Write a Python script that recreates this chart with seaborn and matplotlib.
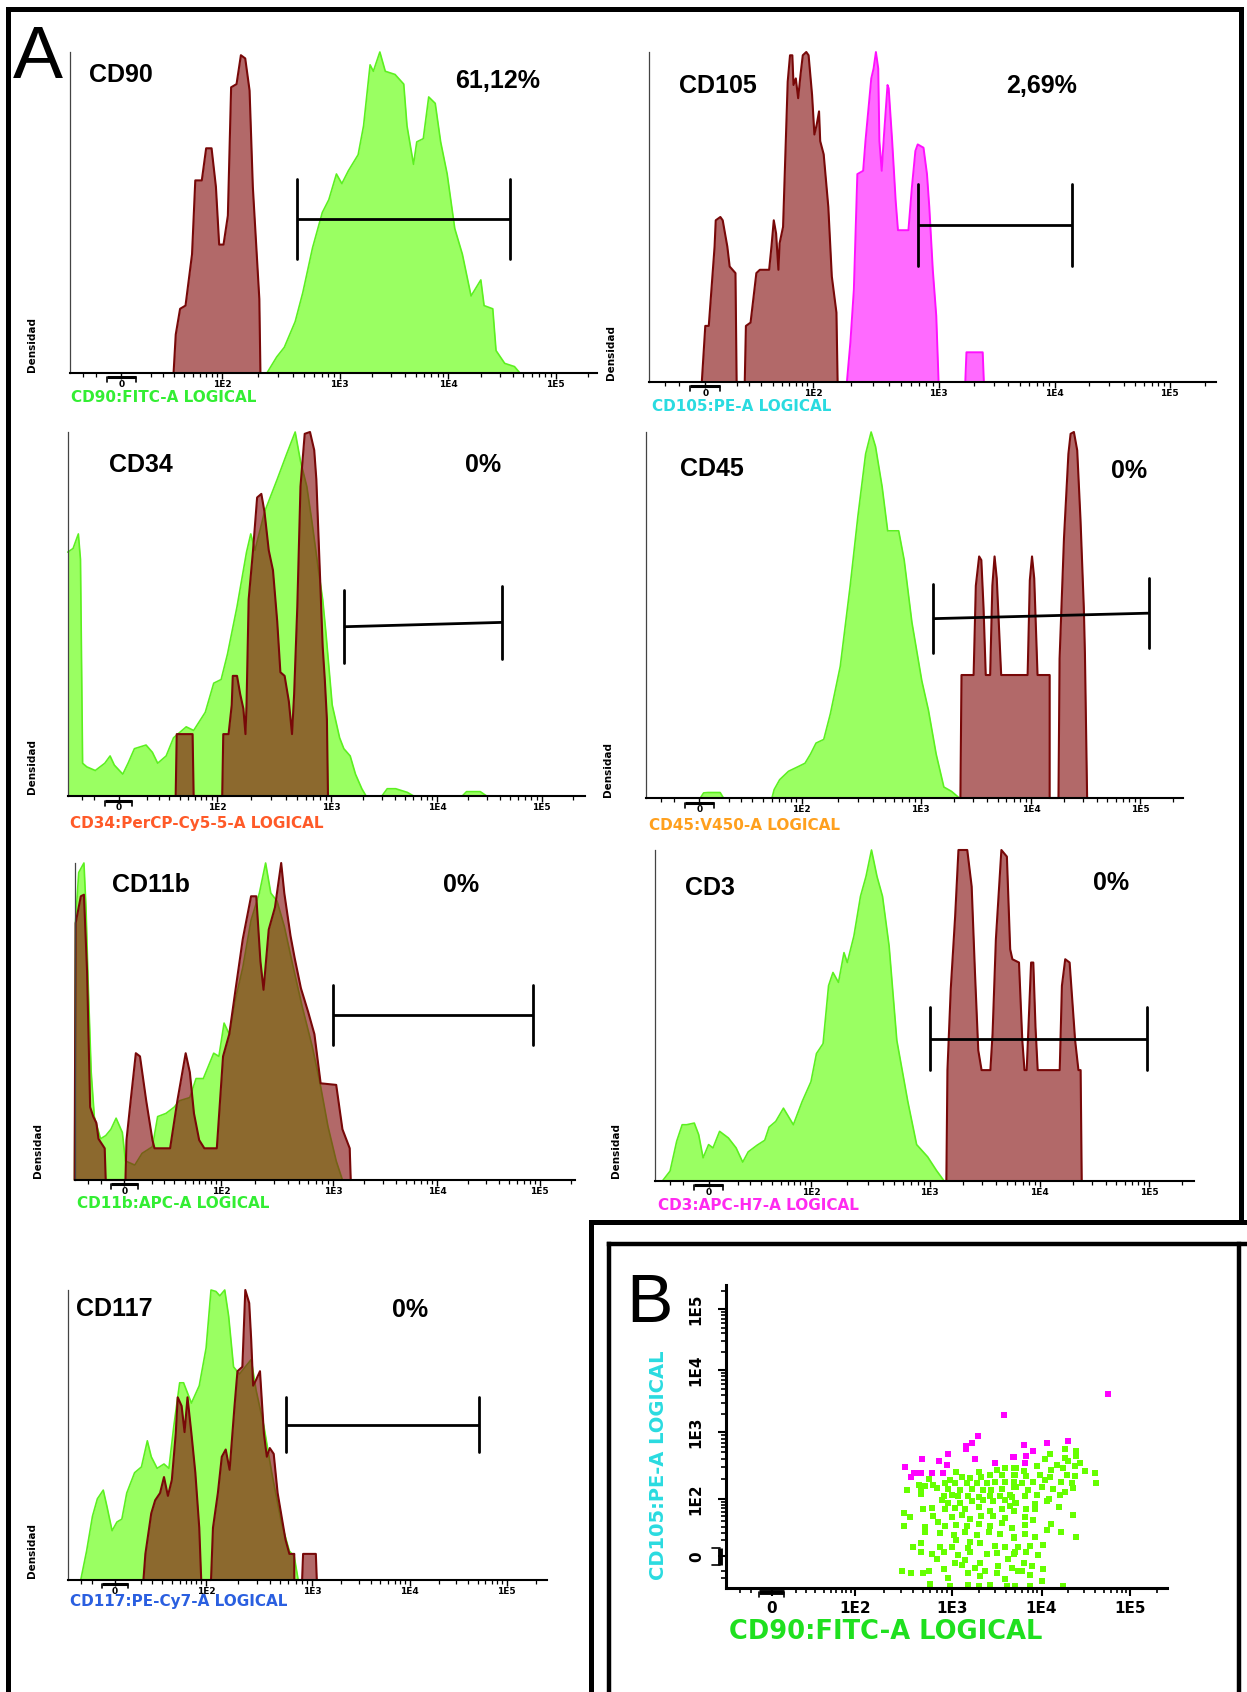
import numpy as np
import matplotlib
matplotlib.use("Agg")
import matplotlib.pyplot as plt
from matplotlib.lines import Line2D
import seaborn as sns

W, H = 1247, 1692

# eixo "logical": posicao das decadas em unidades do eixo
TICK_U = [0, 0.93, 2.01, 3.01, 4.0]
TICK_LABELS = ['0', '1E2', '1E3', '1E4', '1E5']

# ── CD90 ─────────────────────────────────────────────────────────────
CD90_ISO_U = [0.48, 0.50, 0.54, 0.59, 0.65, 0.68, 0.74, 0.78, 0.83, 0.87, 0.90, 0.94, 0.98, 1.01, 1.06,
              1.10, 1.14, 1.18, 1.21, 1.27, 1.28]
CD90_ISO_H = [0, 0.12, 0.20, 0.21, 0.37, 0.60, 0.60, 0.70, 0.70, 0.58, 0.40, 0.40, 0.49, 0.89, 0.90,
              0.99, 0.98, 0.88, 0.58, 0.23, 0]
CD90_U = [1.34, 1.43, 1.50, 1.60, 1.67, 1.76, 1.85, 1.91, 1.98, 2.03, 2.09, 2.18, 2.23, 2.29, 2.32, 2.38,
          2.43, 2.52, 2.60, 2.63, 2.69, 2.72, 2.78, 2.83, 2.89, 2.94, 3.00, 3.07, 3.14, 3.22, 3.31, 3.34,
          3.42, 3.45, 3.53, 3.62, 3.67]
CD90_H = [0, 0.05, 0.08, 0.16, 0.25, 0.39, 0.50, 0.54, 0.62, 0.59, 0.63, 0.68, 0.77, 0.96, 0.94, 1.0,
          0.94, 0.93, 0.90, 0.77, 0.65, 0.72, 0.73, 0.86, 0.84, 0.72, 0.62, 0.45, 0.37, 0.24, 0.29, 0.21,
          0.20, 0.07, 0.03, 0.02, 0]

# ── CD105 ────────────────────────────────────────────────────────────
CD105_ISO_U = [-0.03, 0, 0.03, 0.08, 0.09, 0.13, 0.15, 0.19, 0.21, 0.26, 0.27, 0.34, 0.35, 0.39, 0.44,
               0.47, 0.55, 0.57, 0.59, 0.61, 0.63, 0.64, 0.67, 0.69, 0.71, 0.73, 0.75, 0.76, 0.78, 0.80,
               0.82, 0.84, 0.87, 0.89, 0.92, 0.94, 0.96, 0.98, 0.99, 1.02, 1.06, 1.09, 1.13, 1.14]
CD105_ISO_H = [0, 0.17, 0.17, 0.41, 0.49, 0.50, 0.49, 0.41, 0.35, 0.33, 0, 0, 0.17, 0.18, 0.33,
               0.34, 0.34, 0.41, 0.49, 0.45, 0.34, 0.42, 0.47, 0.69, 0.91, 0.99, 0.99, 0.90, 0.92, 0.86,
               0.93, 0.99, 1.0, 0.99, 0.87, 0.75, 0.78, 0.82, 0.73, 0.69, 0.53, 0.32, 0.21, 0]
CD105_U = [1.22, 1.25, 1.28, 1.31, 1.36, 1.38, 1.43, 1.45, 1.47, 1.49, 1.50, 1.52, 1.54, 1.57, 1.58, 1.61,
           1.64, 1.66, 1.75, 1.78, 1.81, 1.83, 1.88, 1.91, 1.93, 1.96, 1.99, 2.01, 2.24, 2.25, 2.39, 2.40]
CD105_H = [0, 0.12, 0.28, 0.63, 0.64, 0.73, 0.92, 0.95, 1.0, 0.95, 0.73, 0.64, 0.75, 0.90, 0.89, 0.73,
           0.55, 0.46, 0.46, 0.59, 0.70, 0.72, 0.71, 0.63, 0.53, 0.34, 0.20, 0, 0, 0.09, 0.09, 0]

# ── CD34 ─────────────────────────────────────────────────────────────
CD34_U = [-0.48, -0.43, -0.38, -0.36, -0.34, -0.30, -0.22, -0.13, -0.08, -0.04, 0.04, 0.09, 0.15, 0.26,
          0.32, 0.37, 0.45, 0.52, 0.64, 0.71, 0.82, 0.90, 0.97, 1.03, 1.12, 1.21, 1.25, 1.29, 1.38, 1.50,
          1.59, 1.67, 1.72, 1.78, 1.83, 1.89, 1.93, 1.96, 2.02, 2.09, 2.13, 2.19, 2.24, 2.30, 2.34, 2.49,
          2.54, 2.62, 2.73, 2.79, 3.25, 3.29, 3.42, 3.48]
CD34_H = [0.67, 0.68, 0.72, 0.65, 0.09, 0.08, 0.07, 0.09, 0.11, 0.085, 0.06, 0.09, 0.13, 0.14,
          0.12, 0.09, 0.11, 0.16, 0.19, 0.18, 0.23, 0.31, 0.32, 0.39, 0.52, 0.67, 0.72, 0.675, 0.78, 0.87,
          0.94, 1.0, 0.92, 0.85, 0.75, 0.62, 0.54, 0.45, 0.25, 0.16, 0.13, 0.11, 0.06, 0.02, 0, 0,
          0.02, 0.02, 0.01, 0, 0, 0.012, 0.012, 0]
CD34_ISO_U = [0.54, 0.55, 0.70, 0.71, 0.98, 0.99, 1.04, 1.07, 1.08, 1.12, 1.15, 1.18, 1.20, 1.21, 1.23,
              1.27, 1.31, 1.35, 1.38, 1.42, 1.46, 1.50, 1.53, 1.57, 1.61, 1.64, 1.66, 1.69, 1.72, 1.76,
              1.81, 1.85, 1.87, 1.90, 1.93, 1.95, 1.97, 1.98]
CD34_ISO_H = [0, 0.17, 0.17, 0, 0, 0.17, 0.17, 0.25, 0.33, 0.33, 0.28, 0.24, 0.17, 0.25, 0.54,
              0.67, 0.82, 0.83, 0.78, 0.675, 0.62, 0.48, 0.34, 0.33, 0.26, 0.17, 0.28, 0.52, 0.85, 0.995,
              1.0, 0.95, 0.87, 0.64, 0.41, 0.32, 0.21, 0]

# ── CD45 ─────────────────────────────────────────────────────────────
CD45_U = [0.01, 0.04, 0.08, 0.19, 0.22, 0.66, 0.68, 0.73, 0.81, 0.90, 0.96, 1.01, 1.06, 1.13, 1.19, 1.28,
          1.37, 1.44, 1.51, 1.56, 1.60, 1.66, 1.71, 1.75, 1.81, 1.86, 1.93, 2.02, 2.08, 2.15, 2.22, 2.29, 2.36]
CD45_H = [0, 0.014, 0.015, 0.015, 0, 0, 0.023, 0.05, 0.073, 0.086, 0.095, 0.12, 0.15, 0.16, 0.23, 0.36,
          0.58, 0.77, 0.94, 1.0, 0.96, 0.85, 0.73, 0.73, 0.73, 0.65, 0.48, 0.32, 0.24, 0.12, 0.03, 0.018, 0]
CD45_ISO_U = [2.37, 2.38, 2.49, 2.51, 2.54, 2.56, 2.58, 2.60, 2.64, 2.66, 2.68, 2.70, 2.74, 2.98, 3.00,
              3.02, 3.04, 3.07, 3.18, 3.18, 3.26, 3.27, 3.31, 3.35, 3.37, 3.40, 3.43, 3.46, 3.49, 3.50, 3.52]
CD45_ISO_H = [0, 0.336, 0.336, 0.58, 0.66, 0.65, 0.52, 0.336, 0.336, 0.58, 0.66, 0.60, 0.336, 0.336, 0.595,
              0.66, 0.60, 0.336, 0.336, 0, 0, 0.38, 0.71, 0.94, 0.995, 1.0, 0.95, 0.76, 0.52, 0.395, 0]

# ── CD11b ────────────────────────────────────────────────────────────
CD11B_U = [-0.48, -0.47, -0.44, -0.39, -0.37, -0.35, -0.32, -0.29, -0.23, -0.18, -0.13, -0.08, -0.02, 0.01,
           0.10, 0.17, 0.27, 0.32, 0.40, 0.48, 0.53, 0.63, 0.69, 0.76, 0.86, 0.91, 0.96, 1.01, 1.07, 1.14,
           1.22, 1.30, 1.36, 1.41, 1.47, 1.54, 1.62, 1.71, 1.81, 1.89, 1.96, 2.04, 2.10]
CD11B_H = [0, 0.82, 0.97, 1.0, 0.86, 0.63, 0.34, 0.20, 0.13, 0.14, 0.16, 0.195, 0.15, 0.06,
           0.047, 0.084, 0.105, 0.20, 0.21, 0.23, 0.25, 0.26, 0.32, 0.32, 0.40, 0.39, 0.495, 0.46, 0.57, 0.67,
           0.82, 0.905, 1.0, 0.905, 0.88, 0.80, 0.68, 0.55, 0.42, 0.295, 0.17, 0.06, 0]
CD11B_ISO_U = [-0.48, -0.47, -0.42, -0.39, -0.36, -0.33, -0.30, -0.27, -0.25, -0.19, -0.18, 0.01, 0.02,
               0.06, 0.11, 0.15, 0.21, 0.27, 0.29, 0.44, 0.51, 0.59, 0.63, 0.67, 0.72, 0.77, 0.89, 0.95,
               1.01, 1.07, 1.14, 1.22, 1.27, 1.31, 1.34, 1.39, 1.45, 1.51, 1.54, 1.60, 1.64, 1.70, 1.77,
               1.83, 1.89, 2.04, 2.10, 2.17, 2.18]
CD11B_ISO_H = [0, 0.81, 0.895, 0.90, 0.66, 0.23, 0.20, 0.18, 0.13, 0.10, 0, 0, 0.126,
               0.25, 0.40, 0.39, 0.25, 0.126, 0.10, 0.10, 0.25, 0.40, 0.34, 0.21, 0.126, 0.10, 0.10, 0.39,
               0.46, 0.60, 0.76, 0.895, 0.895, 0.69, 0.60, 0.79, 0.86, 1.0, 0.905, 0.77, 0.70, 0.605, 0.53,
               0.46, 0.305, 0.30, 0.16, 0.10, 0]

# ── CD3 ──────────────────────────────────────────────────────────────
CD3_U = [-0.42, -0.35, -0.29, -0.24, -0.20, -0.13, -0.09, -0.05, 0.0, 0.04, 0.10, 0.18, 0.25, 0.31, 0.36,
         0.44, 0.51, 0.55, 0.61, 0.68, 0.77, 0.85, 0.93, 0.98, 1.04, 1.09, 1.13, 1.18, 1.23, 1.26, 1.32,
         1.38, 1.43, 1.48, 1.53, 1.58, 1.64, 1.71, 1.81, 1.89, 1.99, 2.07, 2.14]
CD3_H = [0, 0.03, 0.12, 0.17, 0.17, 0.175, 0.14, 0.07, 0.11, 0.10, 0.15, 0.13, 0.10, 0.057, 0.088,
         0.108, 0.123, 0.163, 0.18, 0.22, 0.17, 0.24, 0.30, 0.385, 0.415, 0.59, 0.63, 0.60, 0.69, 0.66, 0.74,
         0.86, 0.92, 1.0, 0.92, 0.86, 0.71, 0.425, 0.24, 0.11, 0.073, 0.032, 0]
CD3_ISO_U = [2.16, 2.17, 2.20, 2.24, 2.27, 2.35, 2.39, 2.42, 2.45, 2.48, 2.56, 2.58, 2.61, 2.66, 2.71, 2.74,
             2.76, 2.82, 2.85, 2.87, 2.89, 2.93, 2.95, 2.97, 2.99, 3.19, 3.21, 3.24, 3.28, 3.33, 3.36, 3.38,
             3.39]
CD3_ISO_H = [0, 0.335, 0.58, 0.80, 1.0, 1.0, 0.89, 0.63, 0.395, 0.335, 0.335, 0.445, 0.73, 1.0, 0.98, 0.70,
             0.67, 0.66, 0.425, 0.335, 0.335, 0.66, 0.66, 0.465, 0.335, 0.335, 0.59, 0.67, 0.66, 0.425, 0.335,
             0.335, 0]

# ── CD117 ────────────────────────────────────────────────────────────
CD117_U = [-0.35, -0.29, -0.23, -0.18, -0.12, -0.08, -0.03, 0.02, 0.07, 0.12, 0.20, 0.27, 0.33, 0.37, 0.43,
           0.50, 0.55, 0.60, 0.66, 0.70, 0.78, 0.86, 0.93, 0.98, 1.03, 1.07, 1.12, 1.16, 1.21, 1.27, 1.33,
           1.39, 1.44, 1.52, 1.60, 1.70, 1.78, 1.83, 1.87]
CD117_H = [0, 0.10, 0.22, 0.28, 0.31, 0.25, 0.17, 0.20, 0.21, 0.30, 0.37, 0.39, 0.48, 0.425, 0.385,
           0.40, 0.385, 0.53, 0.68, 0.68, 0.61, 0.67, 0.80, 1.0, 0.995, 0.98, 1.0, 0.91, 0.735, 0.71, 0.735,
           0.76, 0.655, 0.53, 0.37, 0.195, 0.10, 0.08, 0]
CD117_ISO_U = [0.29, 0.31, 0.37, 0.41, 0.46, 0.50, 0.54, 0.58, 0.62, 0.64, 0.68, 0.71, 0.74, 0.78, 0.82,
               0.86, 0.88, 0.98, 1.00, 1.05, 1.09, 1.13, 1.17, 1.22, 1.25, 1.30, 1.33, 1.37, 1.39, 1.41,
               1.44, 1.48, 1.52, 1.55, 1.58, 1.62, 1.66, 1.74, 1.78, 1.83, 1.83, 1.91, 1.92, 2.05, 2.06]
CD117_ISO_H = [0, 0.09, 0.23, 0.275, 0.30, 0.355, 0.29, 0.345, 0.505, 0.63, 0.60, 0.51, 0.63, 0.505, 0.37,
               0.18, 0, 0, 0.18, 0.30, 0.425, 0.45, 0.38, 0.60, 0.72, 0.735, 1.0, 0.955, 0.83, 0.67,
               0.69, 0.72, 0.505, 0.425, 0.455, 0.435, 0.30, 0.14, 0.09, 0.09, 0, 0, 0.09, 0.09, 0]

# marcadores de regiao: inicio, fim, altura esq., altura dir., meia altura das pontas
GATE_CD90 = [1.62, 3.58, 0.48, 0.48, 0.125]
GATE_CD105 = [1.83, 3.16, 0.475, 0.475, 0.125]
GATE_CD34 = [2.13, 3.63, 0.465, 0.477, 0.10]
GATE_CD45 = [2.12, 4.08, 0.49, 0.505, 0.095]
GATE_CD11B = [2.01, 3.94, 0.52, 0.52, 0.095]
GATE_CD3 = [2.01, 3.98, 0.43, 0.43, 0.095]
GATE_CD117 = [1.75, 3.72, 0.535, 0.535, 0.095]

# ── B: CD90 x CD105 (eventos) ────────────────────────────────────────
B_GREEN = [
    (2.06, 1.36), (2.31, 1.36), (2.51, 1.40), (2.60, 1.43), (2.73, 1.43),
    (1.75, 1.25), (1.99, 1.24), (2.12, 1.28), (2.21, 1.27), (2.34, 1.28), (2.44, 1.31), (2.57, 1.32), (2.70, 1.32),
    (1.64, 1.16), (1.71, 1.14), (1.80, 1.16), (1.93, 1.19), (2.05, 1.18), (2.18, 1.19), (2.29, 1.18), (2.40, 1.19),
    (2.49, 1.20), (2.60, 1.21),
    (1.51, 1.07), (1.67, 1.09), (1.84, 1.11), (1.97, 1.09), (2.10, 1.08), (2.23, 1.09), (2.36, 1.07), (2.45, 1.08),
    (2.57, 1.09), (2.70, 1.12),
    (1.66, 1.01), (1.92, 0.97), (2.01, 1.00), (2.08, 0.97), (2.19, 0.98), (2.31, 0.96), (2.44, 0.97), (2.55, 0.98),
    (2.66, 1.00),
    (1.90, 0.92), (1.97, 0.86), (2.10, 0.87), (2.23, 0.89), (2.36, 0.92), (2.47, 0.89), (2.60, 0.91), (2.71, 0.86),
    (1.69, 0.76), (1.79, 0.78), (1.93, 0.77), (2.05, 0.78), (2.16, 0.76), (2.31, 0.80), (2.44, 0.74), (2.57, 0.76),
    (2.66, 0.81),
    (1.48, 0.70), (1.54, 0.64), (1.80, 0.65), (2.01, 0.64), (2.12, 0.67), (2.21, 0.60), (2.34, 0.65), (2.47, 0.66),
    (2.60, 0.62),
    (1.48, 0.50), (1.71, 0.48), (1.86, 0.55), (1.93, 0.50), (2.06, 0.51), (2.18, 0.49), (2.31, 0.53), (2.44, 0.50),
    (2.57, 0.54), (2.68, 0.46),
    (1.71, 0.40), (1.88, 0.38), (2.03, 0.35), (2.16, 0.39), (2.29, 0.34), (2.42, 0.40), (2.55, 0.37),
    (2.06, 0.27), (2.21, 0.24), (2.70, 0.31),
    (1.58, 0.15), (1.67, 0.22), (1.88, 0.16), (2.01, 0.16), (2.19, 0.14), (2.32, 0.21), (2.49, 0.17), (2.60, 0.15),
    (1.66, 0.08), (1.79, 0.04), (1.92, 0.07), (2.08, 0.03), (2.21, 0.08), (2.40, 0.04), (2.51, 0.05), (2.71, 0.07),
    (1.84, -0.04), (2.05, -0.11), (2.16, -0.05), (2.32, -0.10), (2.64, -0.04),
    (2.12, -0.13), (2.27, -0.19), (2.53, -0.16), (2.68, -0.19),
    (1.45, -0.24), (1.55, -0.27), (1.69, -0.27), (1.75, -0.24), (1.92, -0.20), (2.19, -0.27), (2.38, -0.24),
    (2.51, -0.27), (2.75, -0.24),
    (1.97, -0.35), (2.32, -0.32), (2.60, -0.37),
    (1.77, -0.44), (1.99, -0.47), (2.19, -0.46), (2.31, -0.47), (2.44, -0.46), (2.62, -0.47),
    (3.27, 1.74), (3.40, 1.70), (3.10, 1.65), (3.05, 1.58), (3.27, 1.59), (3.40, 1.62), (3.18, 1.48), (3.44, 1.51),
    (3.31, 1.54),
    (2.70, 1.43), (2.81, 1.39), (2.96, 1.46), (3.12, 1.40), (3.25, 1.43), (3.38, 1.46), (3.49, 1.39), (3.61, 1.35),
    (2.71, 1.31), (2.84, 1.30), (2.99, 1.32), (3.10, 1.28), (3.29, 1.32), (3.38, 1.30),
    (2.70, 1.21), (2.79, 1.19), (2.92, 1.21), (3.05, 1.24), (3.23, 1.21), (3.35, 1.19), (3.62, 1.19),
    (2.73, 1.12), (2.86, 1.08), (3.01, 1.12), (3.14, 1.09), (3.27, 1.05), (3.36, 1.11),
    (2.68, 0.96), (2.83, 0.97), (2.96, 1.00), (3.09, 0.93), (3.22, 1.00),
    (2.73, 0.86), (2.94, 0.85), (3.07, 0.89), (3.20, 0.80),
    (2.70, 0.73), (2.84, 0.76), (2.94, 0.77),
    (2.83, 0.64), (2.92, 0.59), (3.36, 0.67),
    (2.83, 0.51), (3.12, 0.53), (3.07, 0.43), (3.23, 0.40),
    (2.70, 0.30), (2.83, 0.37), (2.94, 0.32), (3.40, 0.32),
    (2.75, 0.16), (2.88, 0.17), (3.03, 0.19),
    (2.70, 0.04), (2.84, 0.08), (2.97, 0.03),
    (2.81, -0.11), (2.90, -0.16),
    (2.79, -0.24), (2.88, -0.30), (3.03, -0.21),
    (3.01, -0.40), (3.25, -0.47), (2.71, -0.48), (2.88, -0.48),
]
B_MAGENTA = [
    (2.59, 2.29), (2.30, 1.94), (2.23, 1.83), (2.17, 1.78), (2.17, 1.73), (1.97, 1.65), (1.68, 1.58), (1.87, 1.54),
    (2.27, 1.58), (2.49, 1.51), (2.69, 1.61), (1.49, 1.45), (1.95, 1.48), (1.59, 1.35), (1.63, 1.35), (1.67, 1.35),
    (1.79, 1.35), (1.91, 1.35), (1.55, 1.28), (3.31, 1.87), (3.07, 1.83), (2.81, 1.81), (2.92, 1.70), (2.84, 1.63),
    (2.70, 1.61), (2.83, 1.51), (3.75, 2.62),
]

GREEN_FILL, GREEN_EDGE = '#9aff62', '#5cf020'
ISO_FILL, ISO_EDGE = '#851111', '#780808'
MAG_FILL, MAG_EDGE = '#ff6aff', '#ff10ff'

sns.set_theme(style="white", rc={'axes.edgecolor': 'black', 'xtick.color': 'black',
                                 'ytick.color': 'black', 'text.color': 'black'})
plt.rcParams['font.family'] = ['DejaVu Sans']

fig = plt.figure(figsize=(W / 100, H / 100), dpi=100)


def px_axes(l, r, t, b):
    return fig.add_axes([l / W, 1 - b / H, (r - l) / W, (b - t) / H])


def ftext(x, y, s, **kw):
    fig.text(x / W, 1 - y / H, s, **kw)


def fline(xs, ys, lw):
    fig.add_artist(Line2D([x / W for x in xs], [1 - y / H for y in ys], color='black', lw=lw,
                          transform=fig.transFigure, solid_capstyle='projecting'))


def minor_ticks(lo, hi):
    ticks = [-0.35, -0.23, 0.27, 0.38, 0.48, 0.58, 0.66, 0.72, 0.78, 0.83, 0.88]
    for a, b in zip(TICK_U[1:-1], TICK_U[2:]):
        ticks += [a + (b - a) * np.log10(m) for m in range(2, 10)]
    ticks += [TICK_U[-1] + np.log10(m) for m in (2, 3)]
    return [t for t in ticks if lo <= t <= hi]


def draw_layer(ax, u, h, kind):
    if kind == 'green':
        ax.fill_between(u, h, color=GREEN_FILL, linewidth=0, zorder=1)
        sns.lineplot(x=u, y=h, ax=ax, color=GREEN_EDGE, linewidth=1.2, sort=False, estimator=None,
                     zorder=1.1, clip_on=False)
    elif kind == 'mag':
        ax.fill_between(u, h, color=MAG_FILL, linewidth=0, zorder=1)
        sns.lineplot(x=u, y=h, ax=ax, color=MAG_EDGE, linewidth=1.4, sort=False, estimator=None,
                     zorder=1.1, clip_on=False)
    else:
        ax.fill_between(u, h, color=ISO_FILL, alpha=0.63, linewidth=0, zorder=1.2)
        sns.lineplot(x=u, y=h, ax=ax, color=ISO_EDGE, linewidth=1.5, sort=False, estimator=None,
                     zorder=1.3, clip_on=False)


def zero_mark(ax, axis='x', half=0.13, off=-0.013, lw=2.2):
    if axis == 'x':
        tr = ax.get_xaxis_transform()
        ax.plot([-half, half], [off, off], transform=tr, color='black', lw=lw, clip_on=False,
                solid_capstyle='butt', zorder=3)
        for x in (-half, half):
            ax.plot([x, x], [off, off * 2.2], transform=tr, color='black', lw=1.2, clip_on=False, zorder=3)
    else:
        tr = ax.get_yaxis_transform()
        ax.plot([off, off], [-half, half], transform=tr, color='black', lw=lw, clip_on=False,
                solid_capstyle='butt', zorder=3)
        for y in (-half, half):
            ax.plot([off, off * 2.2], [y, y], transform=tr, color='black', lw=1.2, clip_on=False, zorder=3)


def style_hist_axis(ax, xlim):
    ax.set_xlim(*xlim)
    ax.set_ylim(0, 1)
    ax.set_facecolor('none')
    ax.grid(False)
    for s in ('top', 'right'):
        ax.spines[s].set_visible(False)
    ax.spines['left'].set_linewidth(0.9)
    ax.spines['left'].set_color('#444444')
    ax.spines['bottom'].set_linewidth(1.5)
    ax.spines['left'].set_zorder(4)
    ax.spines['bottom'].set_zorder(4)
    ax.set_yticks([])
    ax.set_xticks(TICK_U)
    ax.set_xticklabels(TICK_LABELS, fontsize=6.5, fontweight='bold')
    ax.set_xticks(minor_ticks(*xlim), minor=True)
    ax.tick_params(axis='x', which='major', direction='out', bottom=True, length=4.2, width=1.0, pad=0.8)
    ax.tick_params(axis='x', which='minor', direction='out', bottom=True, length=2.6, width=0.9)
    ax.set_xlabel('')
    ax.set_ylabel('')
    zero_mark(ax)


def draw_gate(ax, g):
    lo, hi, yl, yr, half = g
    ax.plot([lo, hi], [yl, yr], color='black', lw=2.0, zorder=5, solid_capstyle='butt')
    ax.plot([lo, lo], [yl - half, yl + half], color='black', lw=2.0, zorder=5)
    ax.plot([hi, hi], [yr - half, yr + half], color='black', lw=2.0, zorder=5)


# nome, %, caixa (esq, dir, topo, base em px), xlim, camadas, gate, pos nome, pos %, pos Densidad, rotulo x
PANELS = [
    ('CD90', '61,12%', (70, 597, 52, 373), (-0.474, 4.38),
     [(CD90_U, CD90_H, 'green'), (CD90_ISO_U, CD90_ISO_H, 'iso')], GATE_CD90,
     (89, 82), (455, 88), (32, 372), ('CD90:FITC-A LOGICAL', (71, 397), '#33ee33')),
    ('CD105', '2,69%', (649, 1216, 52, 382), (-0.485, 4.40),
     [(CD105_ISO_U, CD105_ISO_H, 'iso'), (CD105_U, CD105_H, 'mag')], GATE_CD105,
     (679, 93), (1006, 93), (611, 380), ('CD105:PE-A LOGICAL', (652, 406), '#2adbe0')),
    ('CD34', '0%', (68, 585, 432, 796), (-0.478, 4.41),
     [(CD34_U, CD34_H, 'green'), (CD34_ISO_U, CD34_ISO_H, 'iso')], GATE_CD34,
     (109, 472), (465, 472), (32, 794), ('CD34:PerCP-Cy5-5-A LOGICAL', (70, 823), '#ff5a28')),
    ('CD45', '0%', (646, 1183, 432, 798), (-0.483, 4.39),
     [(CD45_U, CD45_H, 'green'), (CD45_ISO_U, CD45_ISO_H, 'iso')], GATE_CD45,
     (680, 476), (1111, 478), (608, 797), ('CD45:V450-A LOGICAL', (649, 825), '#ffa01e')),
    ('CD11b', '0%', (75, 575, 863, 1180), (-0.476, 4.34),
     [(CD11B_U, CD11B_H, 'green'), (CD11B_ISO_U, CD11B_ISO_H, 'iso')], GATE_CD11B,
     (112, 892), (443, 892), (38, 1178), ('CD11b:APC-A LOGICAL', (77, 1203), '#33ee33')),
    ('CD3', '0%', (655, 1194, 850, 1181), (-0.487, 4.41),
     [(CD3_U, CD3_H, 'green'), (CD3_ISO_U, CD3_ISO_H, 'iso')], GATE_CD3,
     (685, 895), (1093, 890), (616, 1178), ('CD3:APC-H7-A LOGICAL', (658, 1205), '#ff2af0')),
    ('CD117', '0%', (68, 547, 1290, 1580), (-0.48, 4.41),
     [(CD117_U, CD117_H, 'green'), (CD117_ISO_U, CD117_ISO_H, 'iso')], GATE_CD117,
     (76, 1316), (392, 1317), (32, 1578), ('CD117:PE-Cy7-A LOGICAL', (70, 1601), '#2a5fe0')),
]

for name, pct, box, xlim, layers, gate, name_xy, pct_xy, dens_xy, xlab in PANELS:
    ax = px_axes(*box)
    for u, h, kind in layers:
        draw_layer(ax, u, h, kind)
    draw_gate(ax, gate)
    style_hist_axis(ax, xlim)
    ftext(*name_xy, name, fontsize=18, fontweight='bold', family='Liberation Sans', va='baseline')
    ftext(*pct_xy, pct, fontsize=18, fontweight='bold', family='Liberation Sans', va='baseline')
    ftext(*dens_xy, 'Densidad', fontsize=7.5, fontweight='bold', rotation=90, ha='center', va='bottom')
    label, (lx, ly), lcol = xlab
    ftext(lx, ly, label, fontsize=11, fontweight='bold', color=lcol, ha='left', va='center')

# ── painel B ────────────────────────────────────────────────────────
axb = px_axes(726, 1167, 1285, 1588)
gx, gy = zip(*B_GREEN)
mx, my = zip(*B_MAGENTA)
sns.scatterplot(x=list(gx), y=list(gy), ax=axb, color='#66ff00', marker='s', s=17, linewidth=0, zorder=2)
sns.scatterplot(x=list(mx), y=list(my), ax=axb, color='#ff00ff', marker='s', s=15, linewidth=0, zorder=2)
axb.set_xlim(-0.51, 4.41)
axb.set_ylim(-0.51, 4.39)
axb.set_facecolor('none')
axb.grid(False)
for s in ('top', 'right'):
    axb.spines[s].set_visible(False)
for s in ('left', 'bottom'):
    axb.spines[s].set_linewidth(2.2)
axb.set_xticks(TICK_U)
axb.set_xticklabels(TICK_LABELS, fontsize=11, fontweight='bold')
axb.set_yticks(TICK_U)
axb.set_yticklabels(TICK_LABELS, fontsize=11, fontweight='bold', rotation=90, va='center')
axb.set_xticks(minor_ticks(-0.51, 4.41), minor=True)
axb.set_yticks(minor_ticks(-0.51, 4.39), minor=True)
axb.tick_params(axis='both', which='major', direction='out', bottom=True, left=True, length=6, width=1.5)
axb.tick_params(axis='x', which='major', pad=3)
axb.tick_params(axis='y', which='major', pad=10)
axb.tick_params(axis='both', which='minor', direction='out', bottom=True, left=True, length=3.5, width=1.2)
axb.set_xlabel('')
axb.set_ylabel('')
zero_mark(axb, 'x', half=0.14, off=-0.014, lw=3.5)
zero_mark(axb, 'y', half=0.14, off=-0.014, lw=3.5)
ftext(729, 1632, 'CD90:FITC-A LOGICAL', fontsize=18.5, fontweight='bold', color='#1fe01f', ha='left', va='center')
ftext(659, 1465, 'CD105:PE-A LOGICAL', fontsize=14, fontweight='bold', color='#2adbe0', rotation=90,
      ha='center', va='center')

# ── letras e molduras ────────────────────────────────────────────────
ftext(13, 78, 'A', fontsize=54, family='Liberation Sans', va='baseline')
ftext(626, 1322, 'B', fontsize=50, family='Liberation Sans', va='baseline')

fline([8, 1241], [9, 9], 3.6)
fline([8, 8], [9, 1692], 3.6)
fline([1241, 1241], [9, 1222], 3.6)
fline([591, 1247], [1222, 1222], 3.6)
fline([591, 591], [1222, 1692], 3.6)
fline([609, 1247], [1244, 1244], 3.2)
fline([609, 609], [1244, 1692], 3.2)
fline([1239, 1239], [1244, 1692], 3.2)

fig.savefig('out.png', dpi=100)
